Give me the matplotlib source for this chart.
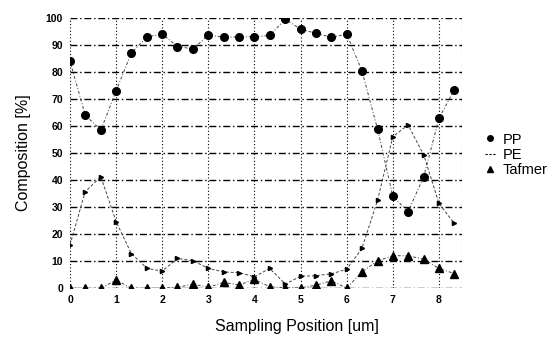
import matplotlib
matplotlib.use("Agg")
import matplotlib.pyplot as plt

plt.rcParams['font.family'] = ['Liberation Sans', 'DejaVu Sans']

# sampling positions, one every 1/3 um
pos = [0, 0.33, 0.67, 1.0, 1.33, 1.67, 2.0, 2.33, 2.67, 3.0, 3.33, 3.67, 4.0,
       4.33, 4.67, 5.0, 5.33, 5.67, 6.0, 6.33, 6.67, 7.0, 7.33, 7.67, 8.0, 8.33]

pp = [84, 64, 58.5, 73, 87, 93, 94, 89.4, 88.5, 93.7, 92.8, 93, 93,
      93.5, 99.5, 95.8, 94.3, 92.8, 94, 80.4, 58.8, 34, 28.3, 41.2, 62.8, 73.3]
pe = [16, 35.7, 41.2, 24.6, 12.8, 7.3, 6.3, 11, 10.1, 7.3, 6, 5.7, 4.2,
      7.3, 1.5, 4.4, 4.6, 5.3, 7, 14.7, 32.6, 56, 60.4, 49.3, 31.4, 24]
tafmer = [0, 0, 0, 3, 0, 0, 0, 0.3, 1.5, 0.3, 2.1, 1.2, 3.2,
          0.5, 0.1, 0.1, 1.1, 2.7, 0, 6, 10.1, 12, 12, 10.7, 7.3, 5.4]

xticks = [0, 1, 2, 3, 4, 5, 6, 7, 8]
yticks = [0, 10, 20, 30, 40, 50, 60, 70, 80, 90, 100]

fig = plt.figure(figsize=(5.6, 3.37), dpi=100)
ax = fig.add_axes([0.125, 0.145, 0.70, 0.802])

dashdot = (0, (5, 2, 1, 2))
for y in yticks:
    ax.axhline(y, color="black", lw=1.0, ls=dashdot, zorder=1)
for x in xticks + [8.5]:
    ax.axvline(x, color="black", lw=0.8, ls=(0, (1, 2)), zorder=1)

ax.plot(pos, pp, color="#444444", lw=0.7, ls=(0, (3, 2, 1, 2)), marker="o",
        markersize=5.5, markerfacecolor="black", markeredgecolor="black",
        label="PP", zorder=3)
ax.plot(pos, pe, color="#444444", lw=0.7, ls=(0, (3, 2)), marker=">",
        markersize=3, markerfacecolor="black", markeredgecolor="black",
        label="PE", zorder=3)
ax.plot(pos, tafmer, color="#444444", lw=0.7, ls=(0, (3, 2, 1, 2)), marker="^",
        markersize=5.5, markerfacecolor="black", markeredgecolor="black",
        label="Tafmer", zorder=3)

ax.set_xlim(0, 8.5)
ax.set_ylim(0, 100)
ax.set_xticks(xticks)
ax.set_yticks(yticks)
ax.tick_params(length=0, labelsize=7.5, pad=5)
for lab in ax.get_xticklabels() + ax.get_yticklabels():
    lab.set_fontweight("bold")
for s in ax.spines.values():
    s.set_visible(False)

ax.set_xlabel("Sampling Position [um]", fontsize=11.5)
ax.xaxis.set_label_coords(0.58, -0.115)
ax.set_ylabel("Composition [%]", fontsize=11.5)
ax.yaxis.set_label_coords(-0.1, 0.5)

legend_handles = [
    plt.Line2D([], [], ls="none", marker="o", markersize=4, color="black"),
    plt.Line2D([], [], color="black", lw=0.8, ls=(0, (2, 1.5))),
    plt.Line2D([], [], ls="none", marker="^", markersize=4, color="black"),
]
fig.legend(legend_handles, ["PP", "PE", "Tafmer"], loc="center left",
           bbox_to_anchor=(0.85, 0.54), frameon=False, fontsize=10.5,
           handlelength=0.7, handletextpad=0.5, labelspacing=0.1,
           borderaxespad=0.2)

fig.savefig("out.png", dpi=100)
